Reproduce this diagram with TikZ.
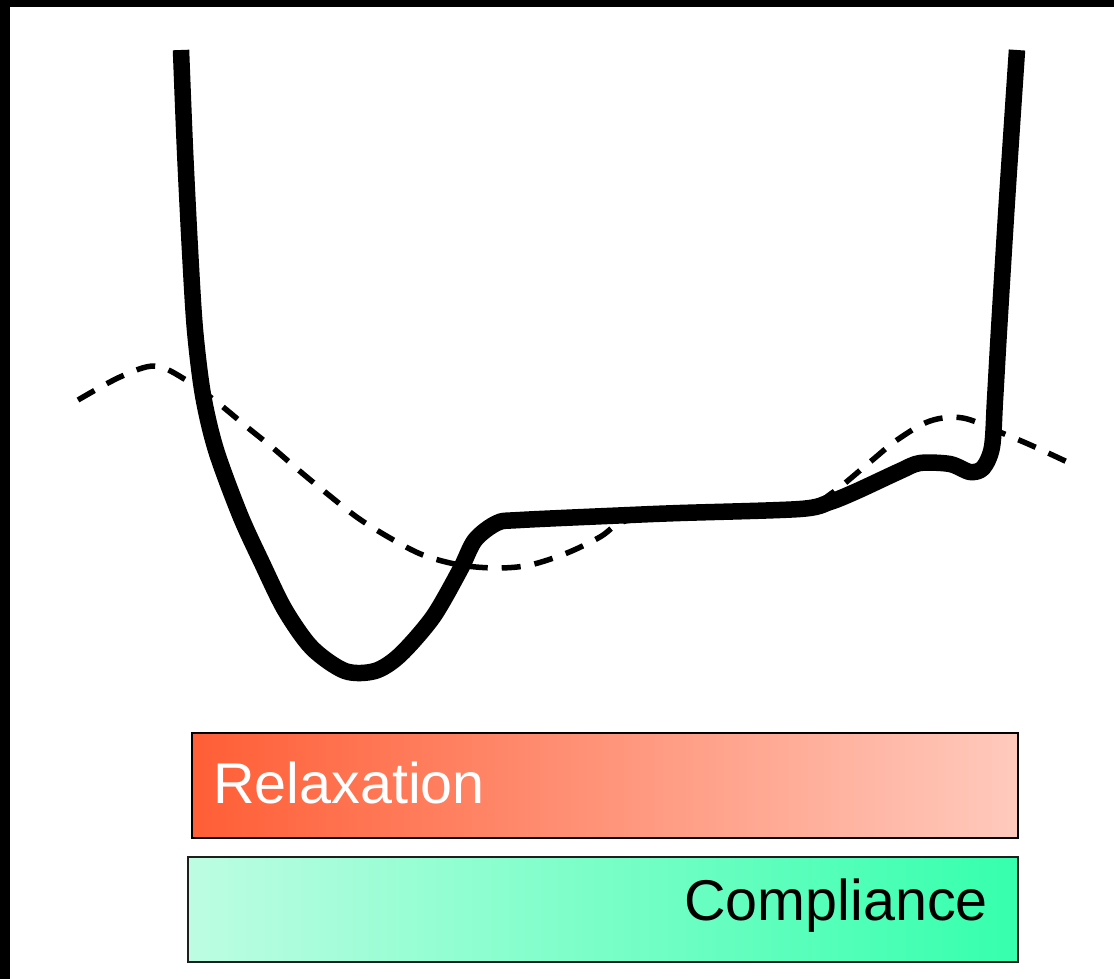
\documentclass[tikz,border=0pt]{standalone}
\usepackage{fontspec}
\setmainfont{Liberation Sans}
\begin{document}
\begin{tikzpicture}[x=1pt,y=-1pt,
  trace/.style={line width=16.5pt,line join=round,line cap=butt},
  reftrace/.style={line width=5.5pt,dash pattern=on 19pt off 14pt,line cap=butt},
  bar/.style={draw=black,line width=2pt},
  barlabel/.style={inner sep=0pt,font=\fontsize{57.5}{60}\selectfont}]
\useasboundingbox (0,0) rectangle (1114,979);
% frame edges
\fill[black] (0,0) rectangle (1114,7);
\fill[black] (0,0) rectangle (10,979);

% dashed reference curve
\draw[reftrace] plot[smooth,tension=0.55] coordinates {
  (78,400) (120,377) (155,366) (186,380) (218,403) (247,427) (273,448)
  (302,473) (330,496) (358,518) (390,538) (423,555) (460,565) (497,568)
  (530,565) (567,553) (600,537) (622,522) (660,516) (700,514) (800,509)
  (832,493) (870,462) (897,440) (930,421) (963,418) (1002,433) (1035,447) (1078,467)};

% solid trace
\draw[trace] plot[smooth,tension=0.5] coordinates {
  (181,50) (185,150) (190,250) (195,330) (203,395) (216,450) (240,515)
  (262,563) (285,610) (312,648) (345,671) (375,671) (400,655) (433,617)
  (460,570) (475,540) (497,523) (520,520) (630,515) (680,513) (800,509)
  (830,502) (857,491) (900,471) (920,463) (950,464) (970,472) (983,468)
  (992,447) (995,400) (999,330) (1007,200) (1017,50)};

% gradient bars
\shade[left color={rgb,255:red,255;green,94;blue,54},right color={rgb,255:red,255;green,202;blue,189}]
  (192,733) rectangle (1018,838);
\draw[bar] (192,733) rectangle (1018,838);
\shade[left color={rgb,255:red,189;green,253;blue,226},right color={rgb,255:red,53;green,255;blue,173}]
  (188,857) rectangle (1018,962);
\draw[bar,draw={rgb,255:red,30;green,30;blue,30}] (188,857) rectangle (1018,962);

\node[barlabel,text=white,anchor=base west] (relax) at (213,803) {Relaxation};
\node[barlabel,text=black,anchor=base east] (compl) at (988,920) {Compliance};
\end{tikzpicture}
\end{document}
